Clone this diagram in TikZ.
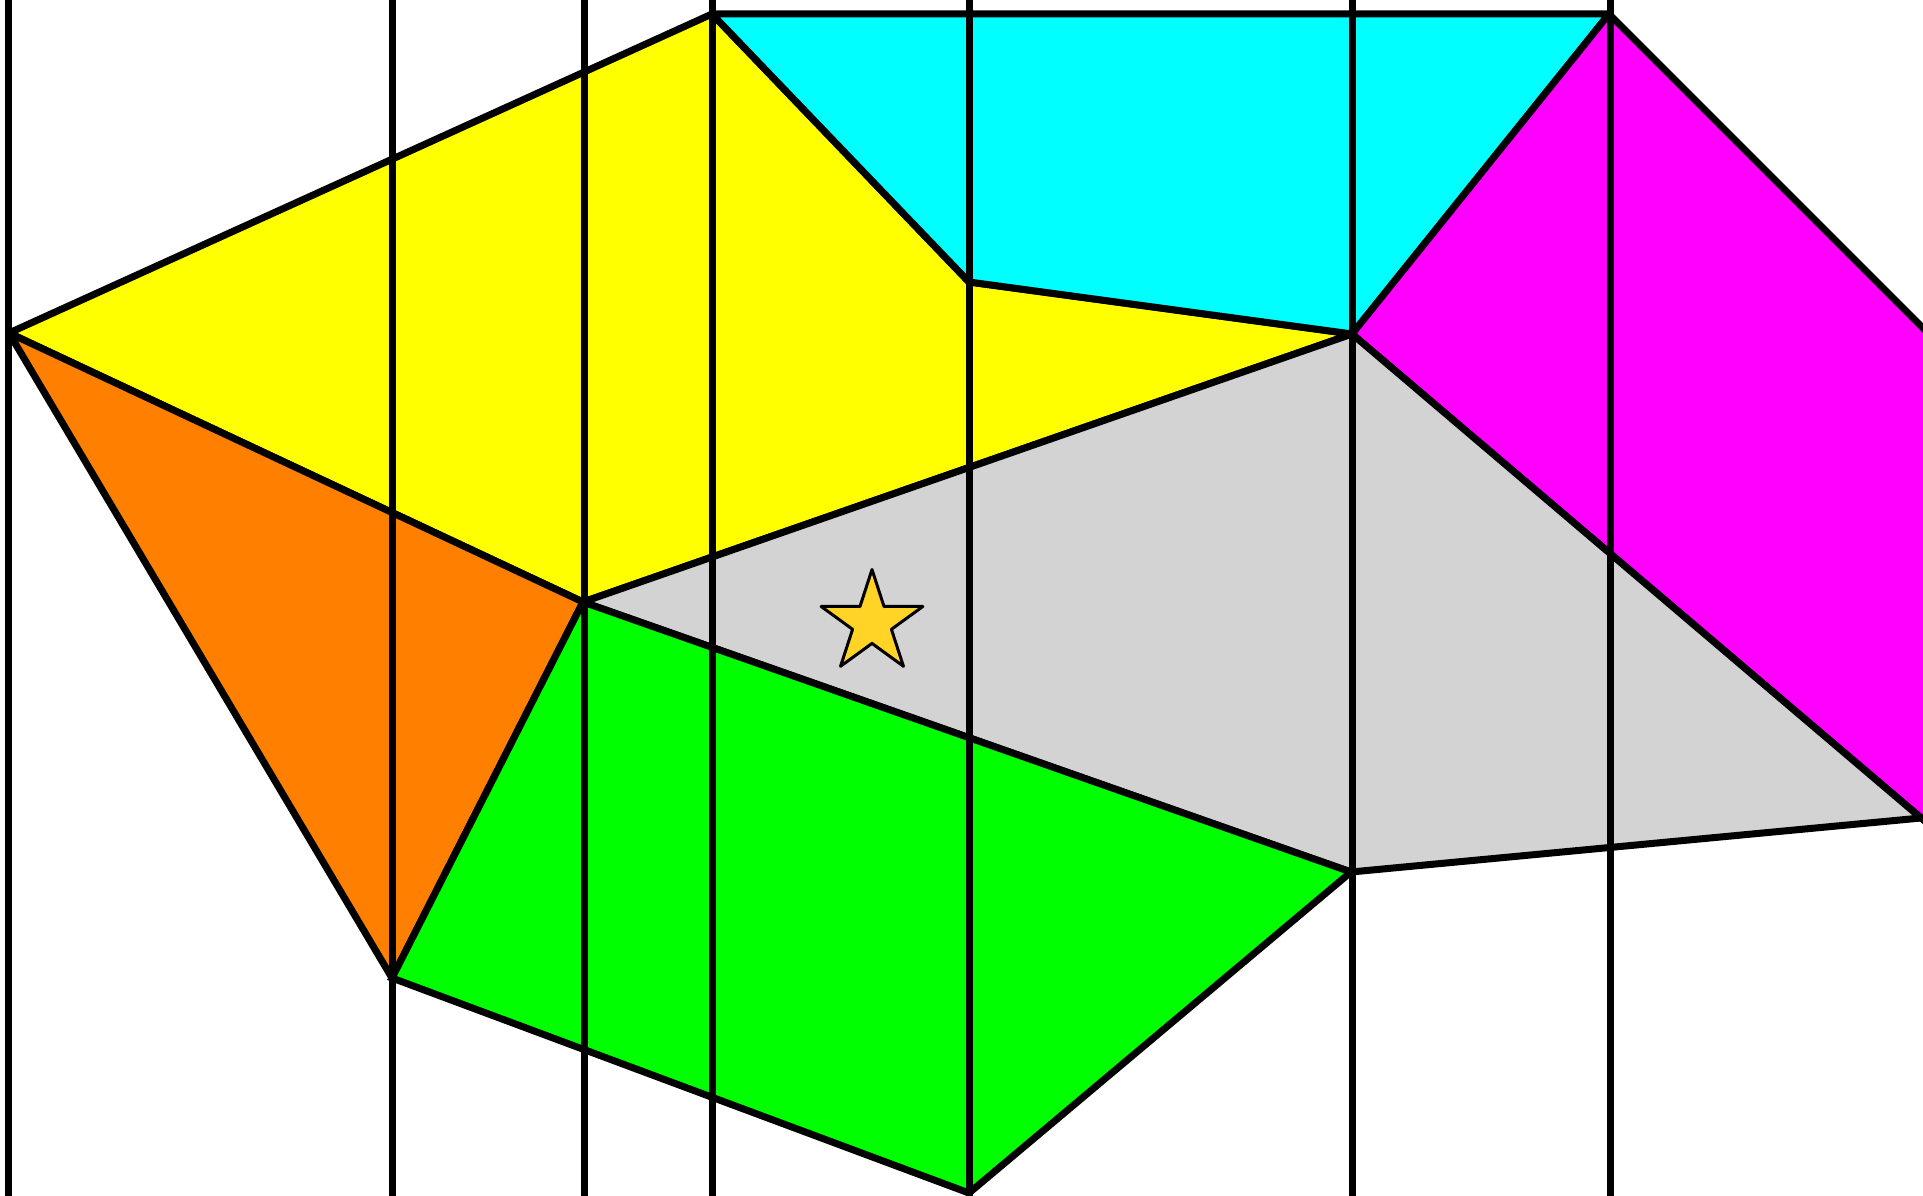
\documentclass[tikz,border=0pt]{standalone}
\usepackage{tikz}
\definecolor{cellyellow}{RGB}{255,255,0}
\definecolor{cellcyan}{RGB}{0,255,255}
\definecolor{cellmagenta}{RGB}{255,0,255}
\definecolor{cellgray}{RGB}{211,211,211}
\definecolor{cellorange}{RGB}{255,128,0}
\definecolor{cellgreen}{RGB}{0,255,0}
\definecolor{stargold}{RGB}{255,212,38}
\tikzset{
  pix/.style={x={(1pt,0pt)}, y={(0pt,-1pt)}},
  face/.style={draw=black, line width=7pt, line join=miter, miter limit=2},
  sweep/.style={black, line width=7pt},
  starmark/.style={draw=black, line width=3pt, fill=stargold, line join=round},
}
\begin{document}
\begin{tikzpicture}[pix]
  \useasboundingbox (0,0) rectangle (1923,1196);
  \clip (0,0) rectangle (1923,1196);
  % --- polygon corners (pixel grid, y downwards) ---
  \coordinate (A) at (9,333);
  \coordinate (B) at (712,14);
  \coordinate (C) at (1609,14);
  \coordinate (D) at (969,282);
  \coordinate (E) at (1352,334);
  \coordinate (F) at (583,602);
  \coordinate (G) at (392,978);
  \coordinate (H) at (969,1193);
  \coordinate (I) at (1351,872);
  \coordinate (J) at (1921,818);
  \coordinate (Cx) at (2100,505);   % beyond the right border
  \coordinate (Jx) at (2100,970);

  % --- coloured cells ---
  \draw[face, fill=cellyellow]  (A)--(B)--(D)--(E)--(F)--cycle;
  \draw[face, fill=cellcyan]    (B)--(C)--(E)--(D)--cycle;
  \draw[face, fill=cellmagenta] (C)--(Cx)--(Jx)--(E)--cycle;
  \draw[face, fill=cellgray]    (F)--(E)--(J)--(I)--cycle;
  \draw[face, fill=cellorange]  (A)--(F)--(G)--cycle;
  \draw[face, fill=cellgreen]   (F)--(I)--(H)--(G)--cycle;

  % --- vertical sweep lines through the corners ---
  \foreach \xv in {8,392,584,712,969,1352,1610}
    \draw[sweep] (\xv,0) -- (\xv,1196);

  % --- star (y runs downwards, so -90 is up) ---
  \draw[starmark, shift={(872,623)}] (-90:53.5)
    \foreach \k in {0,...,4} { -- ({-54+72*\k}:20.4) -- ({-18+72*\k}:53.5) } -- cycle;
\end{tikzpicture}
\end{document}
